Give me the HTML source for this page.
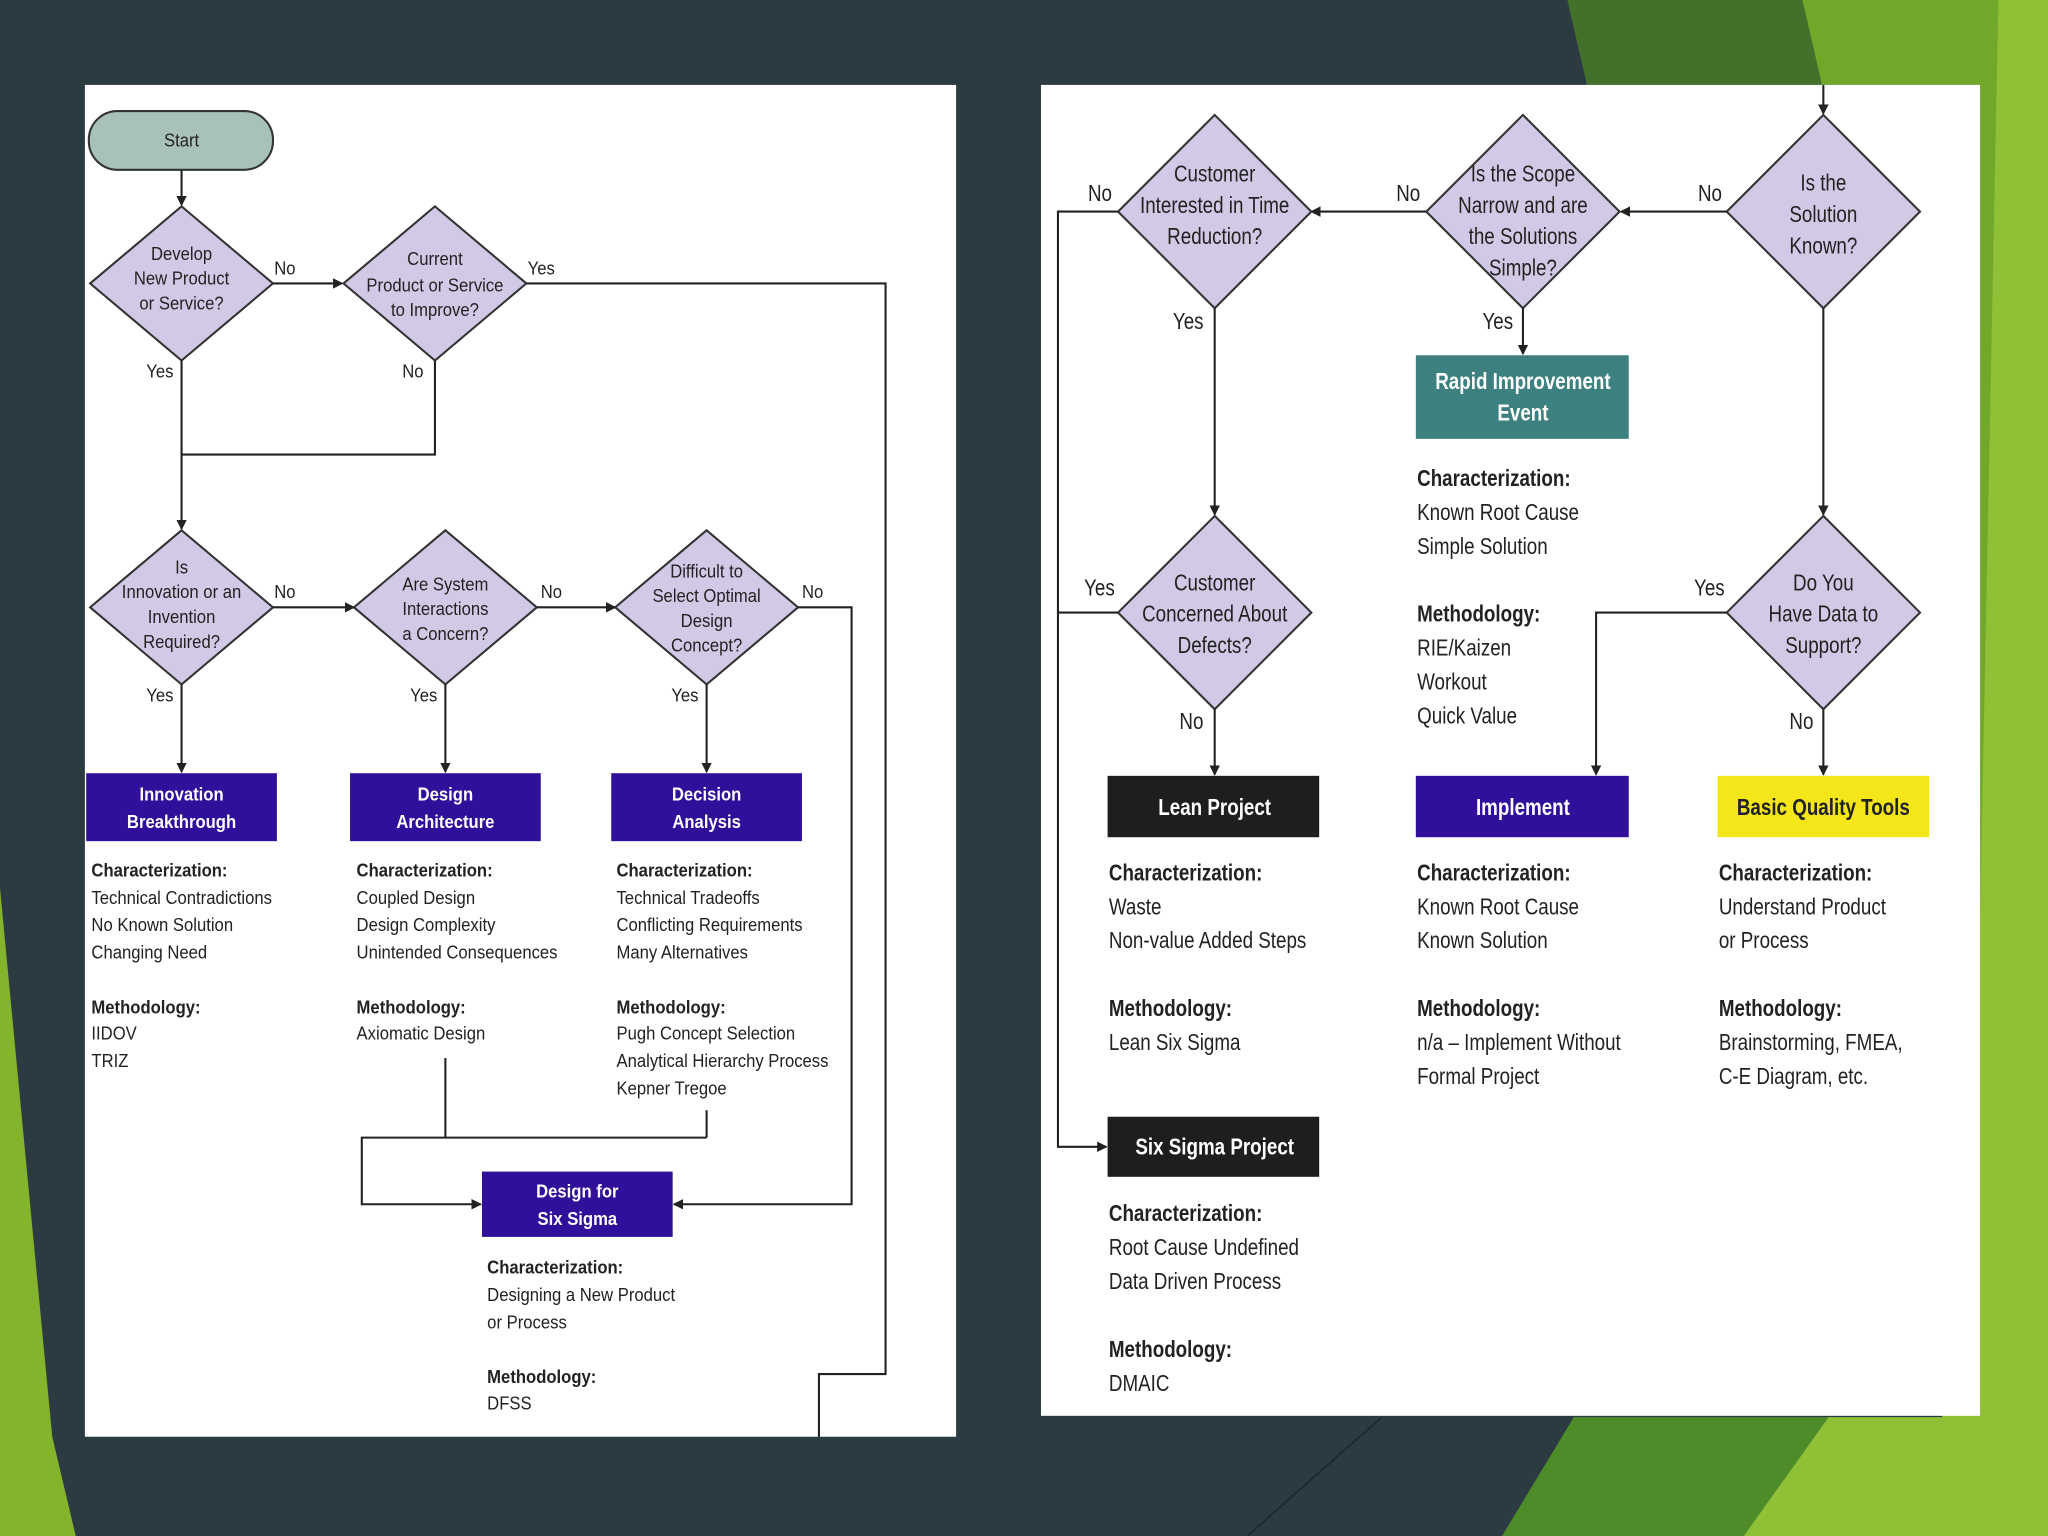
<!DOCTYPE html>
<html><head><meta charset="utf-8"><style>
html,body{margin:0;padding:0;background:#2c3b42;}
svg{display:block}
text{font-family:"Liberation Sans Narrow","Liberation Sans",sans-serif;fill:#222;transform-box:fill-box;transform-origin:0% 50%;transform:scaleX(.8);}
text.l{transform:scaleX(.88);}
text.c{transform-origin:50% 50%;}
.l{font-size:14.5px;}
.r{font-size:18px;}
.b{font-weight:bold;}
.w{fill:#fff;font-weight:bold;}
.c{text-anchor:middle;}
.ln{stroke:#222;stroke-width:1.6;fill:none;}
.dm{fill:#d2c9e6;stroke:#333;stroke-width:1.6;}
</style></head><body>
<svg width="2048" height="1536" viewBox="0 0 1568 1176" xmlns="http://www.w3.org/2000/svg">
<defs><marker id="a" markerWidth="8" markerHeight="8" refX="7" refY="4" orient="auto" markerUnits="userSpaceOnUse"><path d="M0,0 L8,4 L0,8 z" fill="#222"/></marker></defs>
<rect width="1568" height="1176" fill="#2c3b42"/>
<polygon points="1200,0 1568,0 1568,1176 1500,1176 1512,65 1391,65 1215,65" fill="#43702a"/>
<polygon points="1380,0 1568,0 1568,1176 1500,1176 1516,65 1395,65" fill="#72a82a"/>
<polygon points="1530,0 1568,0 1568,1176 1480,1176 1516,700" fill="#8fc036"/>
<polygon points="1150,1176 1205,1085 1400,1085 1335,1176" fill="#4e8c2a"/>
<polygon points="1335,1176 1400,1085 1516,1085 1516,1176" fill="#8fc036"/>
<line x1="955" y1="1176" x2="1058" y2="1085" stroke="#1e2a30" stroke-width="1.5"/>
<polygon points="0,680 40,1100 58,1176 0,1176" fill="#84b32c"/>
<rect x="65" y="65" width="667" height="1035" fill="#fff"/>
<rect x="797" y="65" width="719" height="1019" fill="#fff"/>

<!-- LEFT -->
<rect x="68" y="85" width="141" height="45" rx="22" fill="#a8c2b8" stroke="#333" stroke-width="1.6"/>
<text class="l c" x="139" y="112" font-size="16">Start</text>
<line class="ln" x1="139" y1="130" x2="139" y2="157" marker-end="url(#a)"/>
<polygon class="dm" points="139,158 209,217 139,276 69,217"/>
<text class="l c" x="139" y="199">Develop</text><text class="l c" x="139" y="218">New Product</text><text class="l c" x="139" y="237">or Service?</text>
<text class="l" x="210" y="210">No</text>
<line class="ln" x1="209" y1="217" x2="262" y2="217" marker-end="url(#a)"/>
<polygon class="dm" points="333,158 403,217 333,276 263,217"/>
<text class="l c" x="333" y="203">Current</text><text class="l c" x="333" y="223">Product or Service</text><text class="l c" x="333" y="242">to Improve?</text>
<text class="l" x="404" y="210">Yes</text>
<polyline class="ln" points="403,217 678,217 678,1052 627,1052 627,1100"/>
<text class="l" x="112" y="289">Yes</text>
<text class="l" x="308" y="289">No</text>
<line class="ln" x1="139" y1="276" x2="139" y2="405" marker-end="url(#a)"/>
<polyline class="ln" points="333,276 333,348 139,348"/>

<polygon class="dm" points="139,406 209,465 139,524 69,465"/>
<text class="l c" x="139" y="439">Is</text><text class="l c" x="139" y="458">Innovation or an</text><text class="l c" x="139" y="477">Invention</text><text class="l c" x="139" y="496">Required?</text>
<polygon class="dm" points="341,406 411,465 341,524 271,465"/>
<text class="l c" x="341" y="452">Are System</text><text class="l c" x="341" y="471">Interactions</text><text class="l c" x="341" y="490">a Concern?</text>
<polygon class="dm" points="541,406 611,465 541,524 471,465"/>
<text class="l c" x="541" y="442">Difficult to</text><text class="l c" x="541" y="461">Select Optimal</text><text class="l c" x="541" y="480">Design</text><text class="l c" x="541" y="499">Concept?</text>
<text class="l" x="210" y="458">No</text><text class="l" x="414" y="458">No</text><text class="l" x="614" y="458">No</text>
<line class="ln" x1="209" y1="465" x2="271" y2="465" marker-end="url(#a)"/>
<line class="ln" x1="411" y1="465" x2="471" y2="465" marker-end="url(#a)"/>
<polyline class="ln" points="611,465 652,465 652,922 516,922" marker-end="url(#a)"/>
<text class="l" x="112" y="537">Yes</text><text class="l" x="314" y="537">Yes</text><text class="l" x="514" y="537">Yes</text>
<line class="ln" x1="139" y1="524" x2="139" y2="591" marker-end="url(#a)"/>
<line class="ln" x1="341" y1="524" x2="341" y2="591" marker-end="url(#a)"/>
<line class="ln" x1="541" y1="524" x2="541" y2="591" marker-end="url(#a)"/>
<rect x="66" y="592" width="146" height="52" fill="#300f9a"/>
<text class="l c w" x="139" y="613">Innovation</text><text class="l c w" x="139" y="634">Breakthrough</text>
<rect x="268" y="592" width="146" height="52" fill="#300f9a"/>
<text class="l c w" x="341" y="613">Design</text><text class="l c w" x="341" y="634">Architecture</text>
<rect x="468" y="592" width="146" height="52" fill="#300f9a"/>
<text class="l c w" x="541" y="613">Decision</text><text class="l c w" x="541" y="634">Analysis</text>

<text class="l b" x="70" y="671">Characterization:</text><text class="l" x="70" y="692">Technical Contradictions</text><text class="l" x="70" y="713">No Known Solution</text><text class="l" x="70" y="734">Changing Need</text>
<text class="l b" x="70" y="776">Methodology:</text><text class="l" x="70" y="796">IIDOV</text><text class="l" x="70" y="817">TRIZ</text>
<text class="l b" x="273" y="671">Characterization:</text><text class="l" x="273" y="692">Coupled Design</text><text class="l" x="273" y="713">Design Complexity</text><text class="l" x="273" y="734">Unintended Consequences</text>
<text class="l b" x="273" y="776">Methodology:</text><text class="l" x="273" y="796">Axiomatic Design</text>
<text class="l b" x="472" y="671">Characterization:</text><text class="l" x="472" y="692">Technical Tradeoffs</text><text class="l" x="472" y="713">Conflicting Requirements</text><text class="l" x="472" y="734">Many Alternatives</text>
<text class="l b" x="472" y="776">Methodology:</text><text class="l" x="472" y="796">Pugh Concept Selection</text><text class="l" x="472" y="817">Analytical Hierarchy Process</text><text class="l" x="472" y="838">Kepner Tregoe</text>
<line class="ln" x1="341" y1="810" x2="341" y2="871"/>
<line class="ln" x1="541" y1="850" x2="541" y2="871"/>
<polyline class="ln" points="541,871 277,871 277,922 368,922" marker-end="url(#a)"/>
<rect x="369" y="897" width="146" height="50" fill="#300f9a"/>
<text class="l c w" x="442" y="917">Design for</text><text class="l c w" x="442" y="938">Six Sigma</text>
<text class="l b" x="373" y="975">Characterization:</text><text class="l" x="373" y="996">Designing a New Product</text><text class="l" x="373" y="1017">or Process</text>
<text class="l b" x="373" y="1059">Methodology:</text><text class="l" x="373" y="1079">DFSS</text>

<!-- RIGHT -->
<line class="ln" x1="1396" y1="65" x2="1396" y2="87" marker-end="url(#a)"/>
<polygon class="dm" points="1396,88 1470,162 1396,236 1322,162"/>
<text class="r c" x="1396" y="146">Is the</text><text class="r c" x="1396" y="170">Solution</text><text class="r c" x="1396" y="194">Known?</text>
<text class="r" x="1300" y="154">No</text>
<line class="ln" x1="1322" y1="162" x2="1241" y2="162" marker-end="url(#a)"/>
<polygon class="dm" points="1166,88 1240,162 1166,236 1092,162"/>
<text class="r c" x="1166" y="139">Is the Scope</text><text class="r c" x="1166" y="163">Narrow and are</text><text class="r c" x="1166" y="187">the Solutions</text><text class="r c" x="1166" y="211">Simple?</text>
<text class="r" x="1069" y="154">No</text>
<line class="ln" x1="1092" y1="162" x2="1004" y2="162" marker-end="url(#a)"/>
<polygon class="dm" points="930,88 1004,162 930,236 856,162"/>
<text class="r c" x="930" y="139">Customer</text><text class="r c" x="930" y="163">Interested in Time</text><text class="r c" x="930" y="187">Reduction?</text>
<text class="r" x="833" y="154">No</text>
<polyline class="ln" points="856,162 810,162 810,878 847,878" marker-end="url(#a)"/>
<text class="r" x="898" y="252">Yes</text>
<line class="ln" x1="930" y1="236" x2="930" y2="394" marker-end="url(#a)"/>
<text class="r" x="1135" y="252">Yes</text>
<line class="ln" x1="1166" y1="236" x2="1166" y2="271" marker-end="url(#a)"/>
<rect x="1084" y="272" width="163" height="64" fill="#3d8080"/>
<text class="r c w" x="1166" y="298">Rapid Improvement</text><text class="r c w" x="1166" y="322">Event</text>
<text class="r b" x="1085" y="372">Characterization:</text><text class="r" x="1085" y="398">Known Root Cause</text><text class="r" x="1085" y="424">Simple Solution</text>
<text class="r b" x="1085" y="476">Methodology:</text><text class="r" x="1085" y="502">RIE/Kaizen</text><text class="r" x="1085" y="528">Workout</text><text class="r" x="1085" y="554">Quick Value</text>

<polygon class="dm" points="930,395 1004,469 930,543 856,469"/>
<text class="r c" x="930" y="452">Customer</text><text class="r c" x="930" y="476">Concerned About</text><text class="r c" x="930" y="500">Defects?</text>
<text class="r" x="830" y="456">Yes</text>
<line class="ln" x1="856" y1="469" x2="810" y2="469"/>
<text class="r" x="903" y="558">No</text>
<line class="ln" x1="930" y1="543" x2="930" y2="593" marker-end="url(#a)"/>
<line class="ln" x1="1396" y1="236" x2="1396" y2="394" marker-end="url(#a)"/>
<polygon class="dm" points="1396,395 1470,469 1396,543 1322,469"/>
<text class="r c" x="1396" y="452">Do You</text><text class="r c" x="1396" y="476">Have Data to</text><text class="r c" x="1396" y="500">Support?</text>
<text class="r" x="1297" y="456">Yes</text>
<polyline class="ln" points="1322,469 1222,469 1222,593" marker-end="url(#a)"/>
<text class="r" x="1370" y="558">No</text>
<line class="ln" x1="1396" y1="543" x2="1396" y2="593" marker-end="url(#a)"/>

<rect x="848" y="594" width="162" height="47" fill="#1e1e20"/>
<text class="r c w" x="930" y="624">Lean Project</text>
<rect x="1084" y="594" width="163" height="47" fill="#300f9a"/>
<text class="r c w" x="1166" y="624">Implement</text>
<rect x="1315" y="594" width="162" height="47" fill="#f5e61a"/>
<text class="r c b" x="1396" y="624">Basic Quality Tools</text>

<text class="r b" x="849" y="674">Characterization:</text><text class="r" x="849" y="700">Waste</text><text class="r" x="849" y="726">Non-value Added Steps</text>
<text class="r b" x="849" y="778">Methodology:</text><text class="r" x="849" y="804">Lean Six Sigma</text>
<text class="r b" x="1085" y="674">Characterization:</text><text class="r" x="1085" y="700">Known Root Cause</text><text class="r" x="1085" y="726">Known Solution</text>
<text class="r b" x="1085" y="778">Methodology:</text><text class="r" x="1085" y="804">n/a – Implement Without</text><text class="r" x="1085" y="830">Formal Project</text>
<text class="r b" x="1316" y="674">Characterization:</text><text class="r" x="1316" y="700">Understand Product</text><text class="r" x="1316" y="726">or Process</text>
<text class="r b" x="1316" y="778">Methodology:</text><text class="r" x="1316" y="804">Brainstorming, FMEA,</text><text class="r" x="1316" y="830">C-E Diagram, etc.</text>

<rect x="848" y="855" width="162" height="46" fill="#1e1e20"/>
<text class="r c w" x="930" y="884">Six Sigma Project</text>
<text class="r b" x="849" y="935">Characterization:</text><text class="r" x="849" y="961">Root Cause Undefined</text><text class="r" x="849" y="987">Data Driven Process</text>
<text class="r b" x="849" y="1039">Methodology:</text><text class="r" x="849" y="1065">DMAIC</text>
</svg>
</body></html>
